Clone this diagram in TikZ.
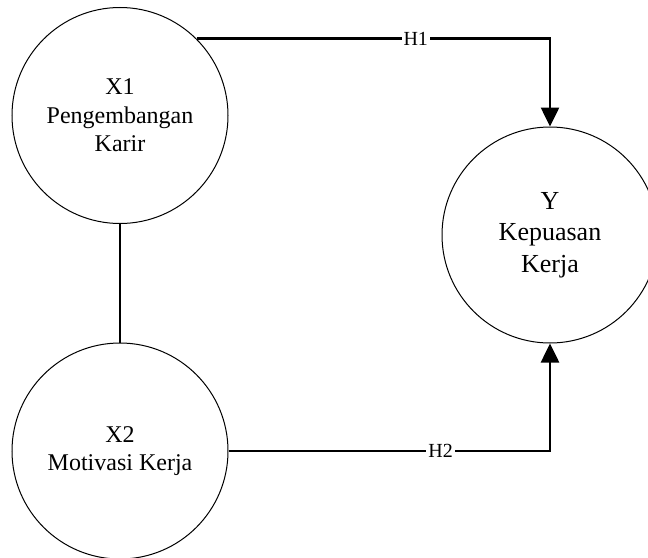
\documentclass[tikz,border=0pt]{standalone}
\usepackage{fontspec}
\setmainfont{Liberation Serif}
\usetikzlibrary{arrows.meta}

\begin{document}
\begin{tikzpicture}[x=0.5pt,y=-0.5pt,
  var/.style={draw,circle,line width=0.5pt,minimum size=108pt,align=center,
    font=\fontsize{12}{14.25}\selectfont},
  link/.style={line width=1.3pt},
  tip/.style={-{Triangle[width=9pt,length=9.5pt]}},
  hyp/.style={fill=white,inner sep=1pt,font=\fontsize{10}{12}\selectfont}]
\useasboundingbox (0,0) rectangle (648,557);
\clip (0,0) rectangle (648,557);
\node[var] (x1) at (120,115.5) {X1\\Pengembangan\\Karir};
\node[var] (x2) at (120,451) {X2\\Motivasi Kerja};
\node[var,font=\fontsize{13}{15.8}\selectfont] (y) at (550,235) {Y\\Kepuasan\\Kerja};
\draw[link] (x1.south) -- (x2.north);
\draw[link,tip] (x1.45) -| node[hyp,pos=0.31]{H1} (y.north);
\draw[link,tip] (x2.east) -| node[hyp,pos=0.33]{H2} (y.south);
\end{tikzpicture}
\end{document}
